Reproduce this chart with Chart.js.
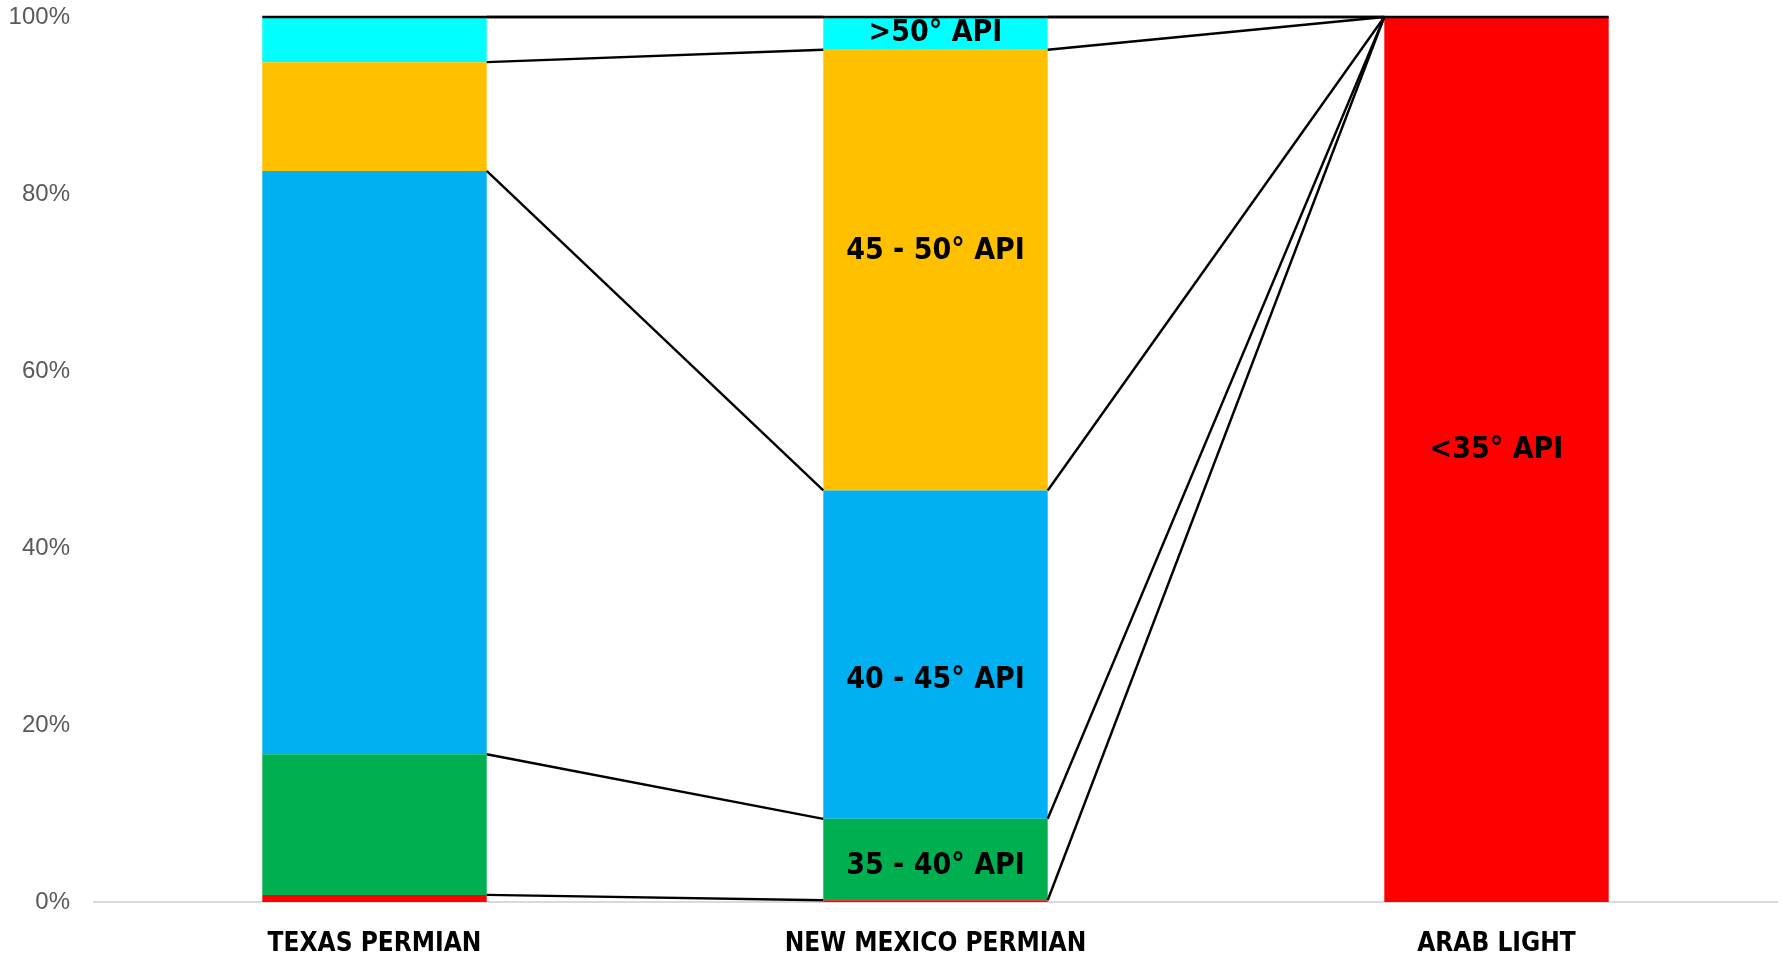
<!DOCTYPE html>
<html lang="en">
<head>
  <meta charset="UTF-8" />
  <title>Permian crude by API gravity</title>
  <style>
    * { box-sizing: border-box; margin: 0; padding: 0; }
    html, body { background: #fff; }
    .wrap { width: 1783px; height: 957px; position: relative; }
  </style>
</head>
<body>
  <div class="wrap"><canvas id="apiChart"></canvas></div>

  <script src="https://cdn.jsdelivr.net/npm/chart.js"></script>
  <script>
    // categories and share of each API gravity band (percent)
    const crudes = ['TEXAS PERMIAN', 'NEW MEXICO PERMIAN', 'ARAB LIGHT'];
    const bands = ['<35° API', '35 - 40° API', '40 - 45° API', '45 - 50° API', '>50° API'];
    const below35 = [0.8, 0.2, 100];
    const api35to40 = [15.9, 9.2, 0];
    const api40to45 = [65.9, 37.1, 0];
    const api45to50 = [12.3, 49.8, 0];
    const above50 = [5.1, 3.7, 0];
    const yTicks = [0, 20, 40, 60, 80, 100];
    // which bar carries each band's label
    const labelOnBar = [2, 1, 1, 1, 1];

    const bandColors = ['#ff0000', '#00b050', '#00b0f0', '#ffc000', '#00ffff'];
    const labelNudge = [-9, 7, 26, -19, 0];

    // Excel-style series lines + in-bar labels
    const seriesLines = {
      id: 'seriesLines',
      afterDatasetsDraw(chart) {
        const ctx = chart.ctx;
        const y = chart.scales.y;
        const metas = chart.data.datasets.map((d, i) => chart.getDatasetMeta(i));
        const cum = (d, i) => {
          let s = 0;
          for (let k = 0; k <= d; k++) s += chart.data.datasets[k].data[i];
          return s;
        };
        ctx.save();
        ctx.strokeStyle = '#000';
        ctx.lineWidth = 2.4;
        for (let d = 0; d < metas.length; d++) {
          for (let i = 0; i < crudes.length - 1; i++) {
            const a = metas[d].data[i], b = metas[d].data[i + 1];
            ctx.beginPath();
            ctx.moveTo(a.x + a.width / 2, y.getPixelForValue(cum(d, i)));
            ctx.lineTo(b.x - b.width / 2, y.getPixelForValue(cum(d, i + 1)));
            ctx.stroke();
          }
        }
        // top edge at 100%
        const first = metas[0].data[0], last = metas[0].data[crudes.length - 1];
        const yTop = y.getPixelForValue(100);
        ctx.beginPath();
        ctx.moveTo(first.x - first.width / 2, yTop);
        ctx.lineTo(last.x + last.width / 2, yTop);
        ctx.stroke();

        // labels
        ctx.fillStyle = '#000';
        ctx.font = 'bold 30px "DejaVu Sans Condensed", "DejaVu Sans", sans-serif';
        ctx.textAlign = 'center';
        ctx.textBaseline = 'middle';
        bands.forEach((txt, d) => {
          const bar = metas[d].data[labelOnBar[d]];
          const mid = (bar.y + bar.base) / 2;
          ctx.fillText(txt, bar.x, mid + labelNudge[d]);
        });
        ctx.restore();
      }
    };

    const series = [below35, api35to40, api40to45, api45to50, above50];

    new Chart(document.getElementById('apiChart'), {
      type: 'bar',
      data: {
        labels: crudes,
        datasets: series.map((vals, i) => ({
          label: bands[i],
          data: vals,
          backgroundColor: bandColors[i],
          borderWidth: 0,
          categoryPercentage: 1,
          barPercentage: 0.4
        }))
      },
      options: {
        responsive: true,
        maintainAspectRatio: false,
        animation: false,
        layout: { padding: { top: 17, right: 6, left: 0, bottom: 0 } },
        plugins: {
          legend: { display: false },
          tooltip: { enabled: false }
        },
        scales: {
          x: {
            stacked: true,
            grid: { display: false, drawTicks: false },
            border: { display: true, color: '#d9d9d9', width: 2 },
            ticks: {
              color: '#000',
              padding: 27,
              font: { family: '"DejaVu Sans Condensed", "DejaVu Sans", sans-serif', weight: 'bold', size: 26 }
            },
            afterFit(s) { s.height = 55; }
          },
          y: {
            stacked: true,
            min: 0,
            max: 100,
            grid: { display: false, drawTicks: false },
            border: { display: false },
            afterBuildTicks(s) { s.ticks = yTicks.map(v => ({ value: v })); },
            ticks: {
              color: '#595959',
              padding: 24,
              font: { family: '"Liberation Sans", Arial, sans-serif', size: 24 },
              callback: v => v + '%'
            },
            afterFit(s) {
              s.width = 94;
              s.paddingTop = 0;
              s.paddingBottom = 0;
            }
          }
        }
      },
      plugins: [seriesLines]
    });
  </script>
</body>
</html>
